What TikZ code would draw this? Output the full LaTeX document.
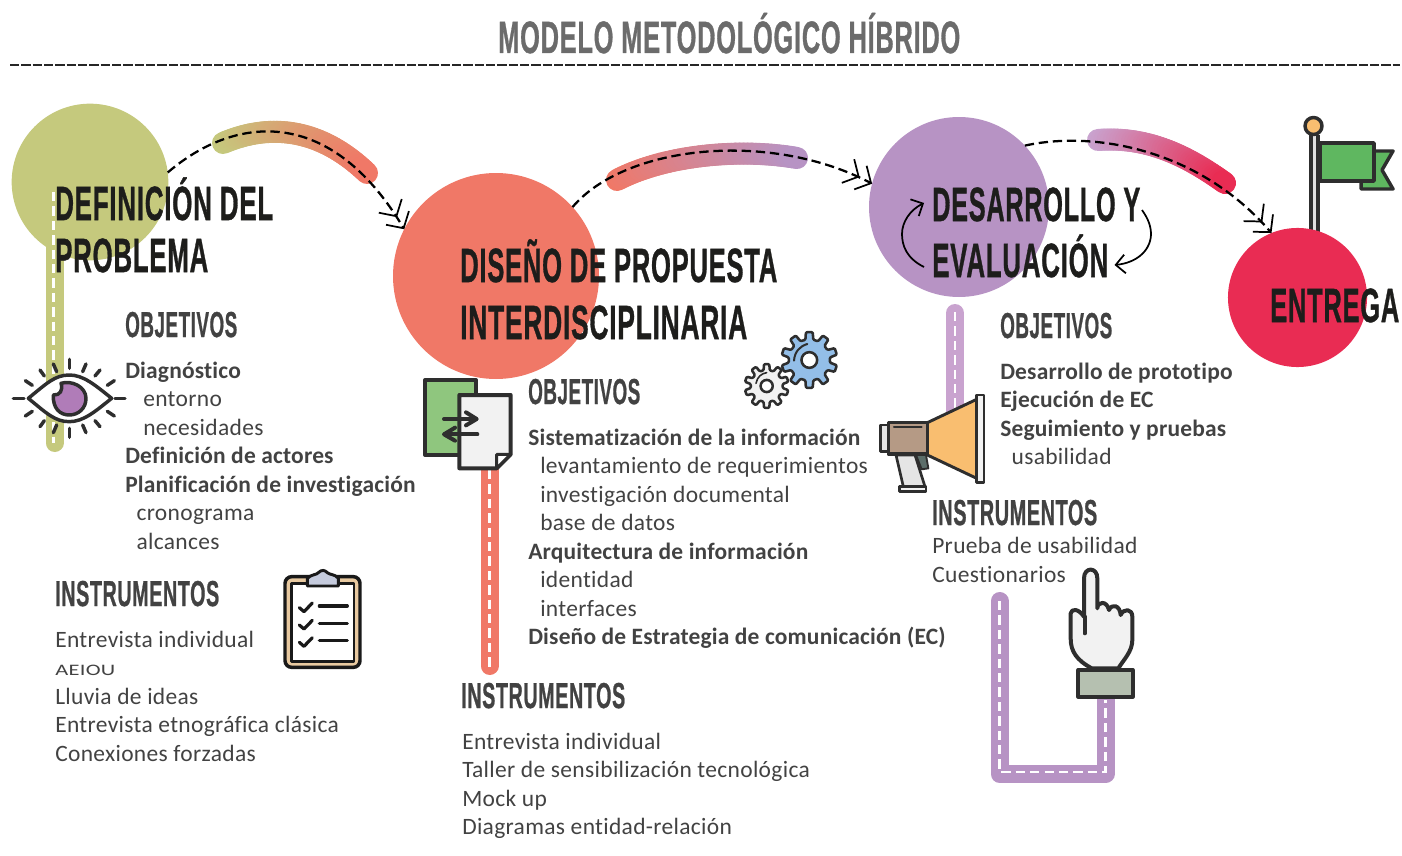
\documentclass[tikz,border=0pt]{standalone}
\usepackage{fontspec}
\usepackage{graphicx}
\usetikzlibrary{arrows.meta}
\setmainfont{Carlito}[Ligatures=CommonOff,LetterSpace=1.4,BoldFeatures={LetterSpace=0.8}]
\newfontfamily\hdf[FakeBold=1.1,LetterSpace=3]{Liberation Sans Bold}
\newdimen\pxd \pxd=0.75pt
\newcommand\hw[2]{\resizebox{#1\pxd}{\height}{\hdf #2}}
\definecolor{olive}{HTML}{C5C97D}
\definecolor{salmon}{HTML}{F07867}
\definecolor{lilac}{HTML}{B793C4}
\definecolor{lilacl}{HTML}{C9A3CF}
\definecolor{crimson}{HTML}{E92C53}
\definecolor{ink}{HTML}{1D1D1B}
\definecolor{txt}{HTML}{424242}
\definecolor{iconl}{HTML}{2E2E2E}
\definecolor{ballc}{HTML}{F9BE70}
\tikzset{
  x=0.75pt,y=-0.75pt,
  blob/.style={circle,inner sep=0pt,outer sep=0pt,draw=none},
  bighd/.style={anchor=base west,inner sep=0pt,text=ink,font=\fontsize{36pt}{40pt}\selectfont},
  subhd/.style={anchor=base west,inner sep=0pt,text=txt,font=\fontsize{27pt}{30pt}\selectfont},
  body/.style={anchor=north west,inner sep=0pt,align=left,text=txt,font=\fontsize{17.6pt}{21.375pt}\selectfont},
  bar/.style={line width=13.5pt,line cap=round,line join=round},
  stitch/.style={white,line width=1.6pt,dash pattern=on 7pt off 3.8pt},
  flow/.style={black,line width=1.7pt,dash pattern=on 7pt off 3.6pt,
    -{Straight Barb[length=9pt,width=20pt,line width=1.3pt]Straight Barb[length=9pt,width=20pt,line width=1.3pt]}},
  cyc/.style={black,line width=1.3pt,-{Straight Barb[length=7pt,width=14pt,line width=1.3pt]}},
  icon/.style={draw=iconl,line width=2.6pt,line join=round,line cap=round},
}
\newcommand\swoosh[8]{%
  \foreach \i in {0,...,47}{%
    \pgfmathsetmacro\ua{\i/48}\pgfmathsetmacro\ub{(\i+1)/48}%
    \pgfmathsetmacro\xa{(1-\ua)^3*#1+3*(1-\ua)^2*\ua*#3+3*(1-\ua)*\ua^2*#5+\ua^3*#7}%
    \pgfmathsetmacro\ya{(1-\ua)^3*#2+3*(1-\ua)^2*\ua*#4+3*(1-\ua)*\ua^2*#6+\ua^3*#8}%
    \pgfmathsetmacro\xb{(1-\ub)^3*#1+3*(1-\ub)^2*\ub*#3+3*(1-\ub)*\ub^2*#5+\ub^3*#7}%
    \pgfmathsetmacro\yb{(1-\ub)^3*#2+3*(1-\ub)^2*\ub*#4+3*(1-\ub)*\ub^2*#6+\ub^3*#8}%
    \pgfmathsetmacro\pc{100-\i*100/47}%
    \draw[line width=16.5pt,line cap=round,draw=swa!\pc!swb] (\xa,\ya) -- (\xb,\yb);%
  }}
\newcommand\gearicon[6]{%
  \begin{scope}[shift={(#1,#2)}]
    \draw[icon,line width=1.9pt,fill=#6,rounded corners=0.8pt] (0:#4)
      \foreach \i [evaluate=\i as \a using (\i-0.5)*360/#5] in {1,...,#5}{
        -- ({\a-11}:#4) -- ({\a-7}:#3) -- ({\a+7}:#3) -- ({\a+11}:#4)
      } -- cycle;
    \draw[icon,line width=1.9pt,fill=white] (0,0) circle[radius=#4*0.38];
  \end{scope}}
\begin{document}
\begin{tikzpicture}
\useasboundingbox (0,0) rectangle (1402,856);
% title
\node[anchor=base west,inner sep=0pt,text=black!58,font=\fontsize{34pt}{38pt}\selectfont] (title) at (498,53) {\hw{462}{MODELO METODOLÓGICO HÍBRIDO}};
\coordinate (ruleA) at (10,65);
\coordinate (ruleB) at (1400,65);
\draw[black!85,line width=1.2pt,dash pattern=on 7pt off 1.5pt] (ruleA) -- (ruleB);
% flag
\definecolor{flagg}{HTML}{5FB760}
\fill[iconl] (1309,135) rectangle (1320,236);
\fill[black!12] (1313,135) rectangle (1316,236);
\draw[icon,fill=flagg] (1361,151) -- (1393,151) -- (1382,170) -- (1393,189) -- (1361,189) -- cycle;
\draw[icon,fill=flagg] (1320,143) rectangle (1374,181);
\draw[icon,fill=ballc] (1313.5,126) circle[radius=8.5];
% bars
\coordinate (b1a) at (54.5,240); \coordinate (b1b) at (54.5,443);
\coordinate (b2a) at (489.5,470); \coordinate (b2b) at (489.5,666);
\coordinate (b3a) at (955,313); \coordinate (b3b) at (955,420);
\coordinate (u1) at (999.5,601); \coordinate (u2) at (999.5,774); \coordinate (u3) at (1105.5,774); \coordinate (u4) at (1105.5,680);
\draw[bar,draw=olive] (b1a) -- (b1b);
\draw[bar,draw=salmon] (b2a) -- (b2b);
\draw[bar,draw=lilacl] (b3a) -- (b3b);
\draw[bar,draw=lilac] (u1) -- (u2) -- (u3) -- (u4);
% circles
\node[blob,fill=olive,minimum size=117.5pt] (c1) at (90,182) {};
\node[blob,fill=salmon,minimum size=154.5pt] (c2) at (496,276) {};
\node[blob,fill=lilac,minimum size=135pt] (c3) at (959,207) {};
\node[blob,fill=crimson,minimum size=104.3pt] (c4) at (1297.5,297.5) {};
% stitches
\coordinate (s1) at (53.5,192);
\draw[stitch] (s1) -- (53.5,443);
\draw[stitch] (b2a) -- (489.5,668);
\draw[stitch] (955,312) -- (955,410);
\draw[stitch] (999.5,601) -- (999.5,772) -- (1105.5,772) -- (1105.5,700);
% swooshes
\colorlet{swa}{olive}\colorlet{swb}{salmon}
\swoosh{223}{143}{270}{123}{320}{128}{367}{173}
\colorlet{swa}{salmon}\colorlet{swb}{lilac}
\swoosh{617}{180}{665}{155}{740}{148}{797}{158}
\colorlet{swa}{lilacl}\colorlet{swb}{crimson}
\swoosh{1098}{140}{1150}{136}{1190}{158}{1225}{183}
% flows
\draw[flow] (c1.7) .. controls (235,115) and (330,105) .. (c2.153);
\draw[flow] (c2.42) .. controls (625,145) and (770,130) .. (c3.165);
\draw[flow] (c3.43) .. controls (1095,130) and (1200,150) .. (c4.112);
% cycle arrows
\coordinate (ca) at (924,267); \coordinate (cb) at (924,203);
\coordinate (cc) at (1142,210); \coordinate (cd) at (1114.5,265);
\draw[cyc] (ca) .. controls (906,258) and (902,245) .. (902,234) .. controls (902,222) and (910,210) .. (cb);
\draw[cyc] (cc) .. controls (1149,220) and (1151,227) .. (1151,235) .. controls (1150,252) and (1135,263) .. (cd);
% eye
\begin{scope}[shift={(0,90)},scale=1/3]
  \draw[icon,fill=white] (85,925) .. controls (140,880) and (165,855) .. (208,855) .. controls (250,855) and (285,885) .. (335,925) .. controls (285,965) and (250,995) .. (208,995) .. controls (165,995) and (140,970) .. (85,925) -- cycle;
  \definecolor{iris}{HTML}{B07CB8}
  \draw[icon,fill=iris] (183,880) .. controls (215,870) and (258,890) .. (258,925) .. controls (258,955) and (235,975) .. (208,975) .. controls (180,975) and (158,955) .. (160,915) .. controls (180,917) and (190,900) .. (183,880) -- cycle;
  \foreach \xa/\ya/\xb/\yb in {120/840/133/858,160/822/170/845,208/808/208/835,258/822/248/845,300/840/285/858,343/872/322/886,76/872/97/886,40/925/72/925,345/925/375/925,120/1010/133/992,160/1028/170/1005,208/1042/208/1015,258/1028/248/1005,300/1010/285/992,343/978/322/964,76/978/97/964}
    \draw[icon] (\xa,\ya) -- (\xb,\yb);
\end{scope}
% clipboard
\begin{scope}[shift={(270,560)},scale=1/3]
  \definecolor{tanc}{HTML}{E8C9A0}\definecolor{clipc}{HTML}{C5CBDD}
  \draw[icon,draw=black!90,fill=tanc,rounded corners=5pt] (45,50) rectangle (270,322);
  \draw[icon,draw=black!90,fill=white,line width=1.8pt] (64,70) rectangle (252,304);
  \draw[icon,draw=black!90,fill=clipc,line width=2.2pt] (112,78) -- (112,55) .. controls (125,42) and (140,45) .. (145,38) .. controls (155,28) and (165,30) .. (172,38) .. controls (180,45) and (195,42) .. (205,55) -- (205,78) -- cycle;
  \foreach \yy in {138,190,242}{
    \draw[icon,draw=black!90,line width=2.4pt] (148,\yy) -- (232,\yy);
    \draw[icon,draw=black!90,line width=2.4pt] (88,{\yy+5}) -- (102,{\yy+17}) -- (127,{\yy-9});
  }
\end{scope}
% documents
\begin{scope}[shift={(400,320)},scale=1/3]
  \definecolor{docg}{HTML}{8FC67E}
  \draw[icon,fill=docg,line width=3pt] (75,180) rectangle (228,405);
  \draw[icon,fill=black!5,line width=3pt] (178,225) -- (332,225) -- (332,403) -- (290,445) -- (178,445) -- cycle;
  \draw[icon,fill=white,line width=2.2pt] (332,403) -- (290,403) -- (290,445) -- cycle;
  \draw[icon,line width=3pt] (132,297) -- (228,297);
  \draw[icon,line width=3pt] (198,277) -- (230,297) -- (198,316);
  \draw[icon,line width=3pt] (232,343) -- (134,343);
  \draw[icon,line width=3pt] (165,323) -- (132,343) -- (165,362);
\end{scope}
% gears
\begin{scope}[shift={(400,320)},scale=1/3]
  \definecolor{gearb}{HTML}{93BEE8}
  \gearicon{1228}{120}{84}{62}{10}{gearb}
  \gearicon{1100}{198}{66}{48}{10}{black!5}
  \draw[icon,line width=1.5pt] (1182,122) .. controls (1184,95) and (1200,78) .. (1222,72);
  \draw[icon,line width=1.2pt] (1068,190) .. controls (1072,170) and (1085,160) .. (1100,158);
\end{scope}
% megaphone
\begin{scope}[shift={(870,380)},scale=1/3]
  \definecolor{horn}{HTML}{F9BE70}\definecolor{mbody}{HTML}{B59A85}\definecolor{trig}{HTML}{5C6E6A}
  \draw[icon,fill=trig,line width=1.4pt] (138,225) -- (168,225) -- (175,265) -- (155,268) -- cycle;
  \draw[icon,fill=black!10,line width=2pt] (78,225) -- (135,225) -- (165,320) -- (100,320) -- cycle;
  \draw[icon,fill=black!5,line width=2pt] (88,320) rectangle (168,335);
  \draw[icon,fill=black!10,line width=2pt] (32,135) rectangle (55,215);
  \draw[icon,fill=horn,line width=2.2pt] (172,128) -- (320,58) -- (320,295) -- (172,225) -- cycle;
  \draw[icon,fill=mbody,line width=2.6pt] (55,128) rectangle (172,222);
  \draw[icon,line width=1.6pt] (72,142) -- (155,142);
  \draw[icon,fill=black!5,line width=2.2pt] (320,45) rectangle (342,308);
\end{scope}
% hand
\begin{scope}[shift={(980,560)},scale=1/3]
  \definecolor{cuff}{HTML}{B5C0B0}
  \draw[icon,fill=black!5,line width=3pt] (335,325) .. controls (290,300) and (272,275) .. (272,235) -- (272,160) .. controls (275,145) and (295,145) .. (312,170) -- (312,55) .. controls (312,20) and (352,20) .. (352,55) -- (352,145) .. controls (352,125) and (380,120) .. (387,150) .. controls (395,130) and (420,135) .. (422,165) .. controls (430,145) and (457,145) .. (457,170) -- (457,240) .. controls (457,275) and (430,300) .. (415,325) -- cycle;
  \draw[icon,line width=3pt] (314,170) -- (314,220);
  \draw[icon,fill=cuff,line width=3pt] (295,330) rectangle (458,410);
\end{scope}
% headings
\node[bighd] (h1a) at (55,220) {\hw{218}{DEFINICIÓN DEL}};
\node[bighd] (h1b) at (55,272) {\hw{153}{PROBLEMA}};
\node[bighd] (h2a) at (460,282) {\hw{317}{DISEÑO DE PROPUESTA}};
\node[bighd] (h2b) at (460,339) {\hw{287}{INTERDISCIPLINARIA}};
\node[bighd] (h3a) at (932,221) {\hw{208}{DESARROLLO Y}};
\node[bighd] (h3b) at (932,277) {\hw{176}{EVALUACIÓN}};
\node[bighd] (h4) at (1270,322) {\hw{129}{ENTREGA}};
\node[subhd] (o1) at (125,337) {\hw{112}{OBJETIVOS}};
\node[subhd] (o2) at (528,404) {\hw{112}{OBJETIVOS}};
\node[subhd] (o3) at (1000,338) {\hw{112}{OBJETIVOS}};
\node[subhd] (i1) at (55,606) {\hw{164}{INSTRUMENTOS}};
\node[subhd] (i2) at (461,708) {\hw{164}{INSTRUMENTOS}};
\node[subhd] (i3) at (932,525) {\hw{165}{INSTRUMENTOS}};
% bodies
\node[body] (t1) at (125,358) {\strut\textbf{Diagnóstico}\\\hspace*{13.5pt}entorno\\\hspace*{13.5pt}necesidades\\\textbf{Definición de actores}\\\textbf{Planificación de investigación}\\\hspace*{8.5pt}cronograma\\\hspace*{8.5pt}alcances};
\node[body] (t2) at (55,627) {\strut Entrevista individual\\\resizebox{60\pxd}{\height}{\fontsize{12pt}{14pt}\selectfont AEIOU}\\Lluvia de ideas\\Entrevista etnográfica clásica\\Conexiones forzadas};
\node[body] (t3) at (528,425) {\strut\textbf{Sistematización de la información}\\\hspace*{9pt}levantamiento de requerimientos\\\hspace*{9pt}investigación documental\\\hspace*{9pt}base de datos\\\textbf{Arquitectura de información}\\\hspace*{9pt}identidad\\\hspace*{9pt}interfaces\\\textbf{Diseño de Estrategia de comunicación (EC)}};
\node[body] (t4) at (462,729) {\strut Entrevista individual\\Taller de sensibilización tecnológica\\Mock up\\Diagramas entidad-relación};
\node[body] (t5) at (1000,359) {\strut\textbf{Desarrollo de prototipo}\\\textbf{Ejecución de EC}\\\textbf{Seguimiento y pruebas}\\\hspace*{8.5pt}usabilidad};
\node[body] (t6) at (932,533.5) {\strut Prueba de usabilidad\\Cuestionarios};
\end{tikzpicture}
\end{document}
